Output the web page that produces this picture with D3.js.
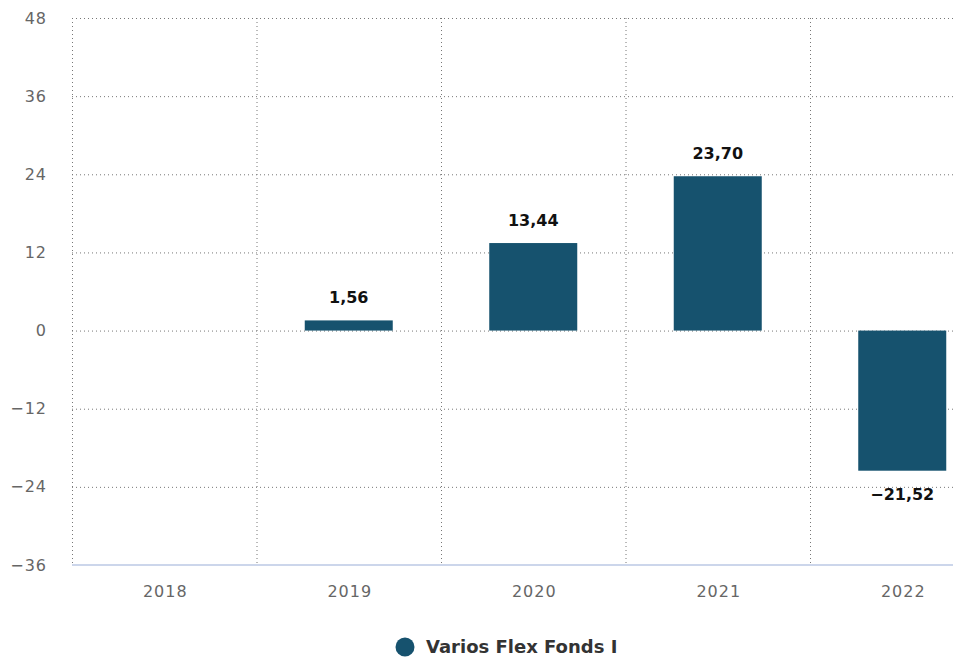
<!DOCTYPE html>
<html>
<head>
<meta charset="utf-8">
<script src="https://cdn.jsdelivr.net/npm/d3@7"></script>
<style>
  body { margin: 0; background: #fff; overflow: hidden; }
  svg { display: block; font-family: "DejaVu Sans", Verdana, sans-serif; }
</style>
</head>
<body>
<script>
// chart data
const years = ["2018", "2019", "2020", "2021", "2022"];
const values = [null, 1.56, 13.44, 23.70, -21.52];
const yTicks = [-36, -24, -12, 0, 12, 24, 36, 48];
const seriesName = "Varios Flex Fonds I";

const width = 953, height = 661;
const plotLeft = 72, plotTop = 18, plotBottom = 565;
const bandW = 184.5;
const barColor = "#16526e";

const svg = d3.select("body").append("svg")
  .attr("width", width).attr("height", height);

const x = d3.scaleBand()
  .domain(years)
  .range([plotLeft, plotLeft + bandW * years.length])
  .paddingInner(0).paddingOuter(0);

const y = d3.scaleLinear().domain([-36, 48]).range([plotBottom, plotTop]);

const fmt = v => d3.format(".2f")(v).replace(".", ",").replace("-", "\u2212");

// horizontal grid
svg.append("g").selectAll("line").data(yTicks.filter(t => t !== -36)).join("line")
  .attr("x1", plotLeft).attr("x2", width)
  .attr("y1", d => y(d) + 0.5).attr("y2", d => y(d) + 0.5)
  .attr("stroke", "#777").attr("stroke-width", 1).attr("stroke-dasharray", "1,3");

// vertical grid
svg.append("g").selectAll("line").data(years).join("line")
  .attr("x1", d => x(d) + 0.5).attr("x2", d => x(d) + 0.5)
  .attr("y1", plotTop).attr("y2", plotBottom)
  .attr("stroke", "#777").attr("stroke-width", 1).attr("stroke-dasharray", "1,3");

// x axis line
svg.append("line")
  .attr("x1", plotLeft).attr("x2", width)
  .attr("y1", plotBottom).attr("y2", plotBottom)
  .attr("stroke", "#ccd6eb").attr("stroke-width", 2);

// y labels
svg.append("g").selectAll("text").data(yTicks).join("text")
  .attr("x", 47).attr("y", d => y(d))
  .attr("dy", "0.35em").attr("text-anchor", "end")
  .attr("font-size", 16).attr("letter-spacing", 1).attr("fill", "#666")
  .text(d => d < 0 ? "\u2212" + Math.abs(d) : d);

// x labels
svg.append("g").selectAll("text").data(years).join("text")
  .attr("x", d => x(d) + x.bandwidth() / 2 + 1).attr("y", 591)
  .attr("dy", "0.35em").attr("text-anchor", "middle")
  .attr("font-size", 16).attr("letter-spacing", 1).attr("fill", "#666")
  .text(d => d);

// bars
const data = years.map((yr, i) => ({ yr, v: values[i] })).filter(d => d.v !== null);
const barW = 88;

svg.append("g").selectAll("rect").data(data).join("rect")
  .attr("x", d => x(d.yr) + (x.bandwidth() - barW) / 2)
  .attr("width", barW)
  .attr("y", d => y(Math.max(0, d.v)))
  .attr("height", d => Math.abs(y(d.v) - y(0)))
  .attr("fill", barColor);

// data labels
svg.append("g").selectAll("text").data(data).join("text")
  .attr("x", d => x(d.yr) + x.bandwidth() / 2)
  .attr("y", d => d.v >= 0 ? y(d.v) - 23 : y(d.v) + 24)
  .attr("dy", "0.35em").attr("text-anchor", "middle")
  .attr("font-size", 16).attr("font-weight", "bold").attr("fill", "#111")
  .text(d => fmt(d.v));

// legend
const lg = svg.append("g").attr("transform", "translate(405,647)");
lg.append("circle").attr("r", 9.5).attr("fill", barColor);
lg.append("text").attr("x", 21).attr("dy", "0.35em")
  .attr("font-size", 18).attr("font-weight", "bold").attr("fill", "#333")
  .text(seriesName);
</script>
</body>
</html>
